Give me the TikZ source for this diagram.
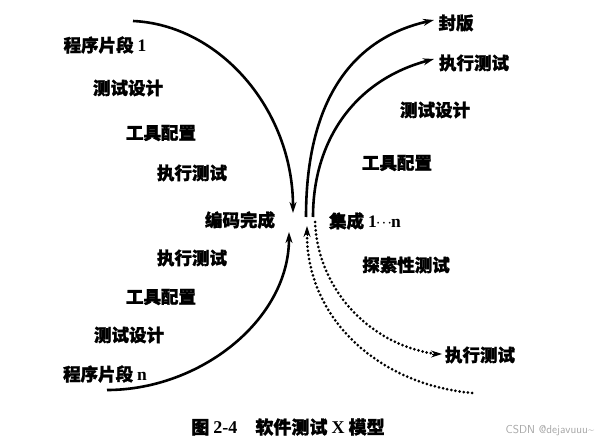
\documentclass[tikz,border=0pt]{standalone}
\usepackage{fontspec}
\setmainfont{Liberation Serif}
\newfontfamily\cjk{Noto Sans CJK SC}[BoldFeatures={FakeBold=1.5}]
\usetikzlibrary{arrows.meta,calc}
\begin{document}
\begin{tikzpicture}[x=1pt,y=-1pt,
  lbl/.style={font=\cjk\bfseries\fontsize{17.5}{18}\selectfont, inner sep=0pt, text=black},
  arc/.style={line width=2.6pt, black},
  dotarc/.style={line width=3pt, black, line cap=round, dash pattern=on 0pt off 4.2pt},
  tip/.style={-{Stealth[length=11pt,width=7pt]}},
  rtip/.style={{Stealth[length=11pt,width=7pt]}-}]
\useasboundingbox (0,0) rectangle (601,443);
\fill[white] (0,0) rectangle (601,443);
% left labels
\node[lbl] (p1) at (105,45) {程序片段 {\rmfamily 1}};
\node[lbl] (l1) at (128,88) {测试设计};
\node[lbl] (l2) at (161,133) {工具配置};
\node[lbl] (l3) at (192,173) {执行测试};
\node[lbl] (code) at (240,220) {编码完成};
\node[lbl] (l4) at (192,258) {执行测试};
\node[lbl] (l5) at (161,297) {工具配置};
\node[lbl] (l6) at (129,335) {测试设计};
\node[lbl] (pn) at (105,374) {程序片段 {\rmfamily n}};
% right labels
\node[lbl] (seal) at (456,23) {封版};
\node[lbl] (r1) at (474,63) {执行测试};
\node[lbl] (r2) at (435,110) {测试设计};
\node[lbl] (r3) at (397,163) {工具配置};
\node[lbl] (integ) at (365,221) {集成 {\rmfamily 1}\kern-1pt$\cdot\!\cdot\!\cdot$\kern-1pt{\rmfamily n}};
\node[lbl] (explore) at (406,265) {探索性测试};
\node[lbl] (r4) at (480,355) {执行测试};
% caption
\node[lbl, font=\cjk\bfseries\fontsize{18}{19}\selectfont] (cap) at (288,427) {图 {\rmfamily 2-4}\quad 软件测试 {\rmfamily X} 模型};
\node[font=\sffamily\fontsize{11.5}{12}\selectfont, text=black!35, inner sep=0pt] (wm) at (550,431) {CSDN @dejavuuu\~{}};
% coordinates
\coordinate (a1s) at (133,21);
\coordinate (a1e) at (293,213);
\coordinate (a2s) at (107,390);
\coordinate (a2e) at (289,232);
\coordinate (a3s) at (306,217);
\coordinate (a3e) at (434,20);
\coordinate (a4s) at (313,217);
\coordinate (a4e) at (434,59);
\coordinate (d1s) at (315,222);
\coordinate (d1e) at (442,354);
\coordinate (d2s) at (307,226);
\coordinate (d2e) at (473,393);
% curves
\draw[arc, tip] (a1s) .. controls (220,25) and (293,110) .. (a1e);
\draw[arc, tip] (a2s) .. controls (200,390) and (289,320) .. (a2e);
\draw[arc, rtip] (a3e) .. controls (345,40) and (306,110) .. (a3s);
\draw[arc, rtip] (a4e) .. controls (355,80) and (313,140) .. (a4s);
\draw[dotarc] (d1s) .. controls (318,290) and (370,345) .. ($(d1e)+(-6,0)$);
\draw[arc, line width=1pt, -{Stealth[length=11pt,width=7pt]}] ($(d1e)+(-10,0)$) -- (d1e);
\draw[dotarc] ($(d2s)+(0,8)$) .. controls (307,320) and (380,385) .. (d2e);
\draw[arc, line width=1pt, -{Stealth[length=11pt,width=7pt]}] ($(d2s)+(0,10)$) -- (d2s);
\end{tikzpicture}
\end{document}
